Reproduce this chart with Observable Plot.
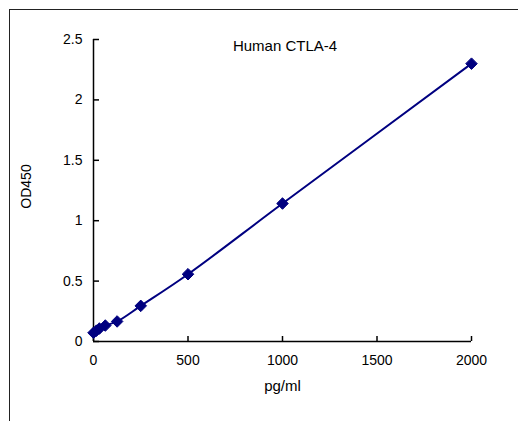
<!DOCTYPE html>
<html>
<head>
<meta charset="utf-8">
<script src="https://cdn.jsdelivr.net/npm/d3@7"></script>
<script src="https://cdn.jsdelivr.net/npm/@observablehq/plot@0.6"></script>
<style>
  html, body { margin: 0; padding: 0; background: #fff; }
  #wrap { position: relative; width: 518px; height: 421px; overflow: hidden; }
  #frame { position: absolute; left: 9px; top: 9px; width: 700px; height: 700px; border: 1.5px solid #222; box-sizing: border-box; }
  #chart { position: absolute; left: 0; top: 0; }
</style>
</head>
<body>
<div id="wrap"><div id="frame"></div><div id="chart"></div></div>
<script>
const title = "Human CTLA-4";
const xLabel = "pg/ml";
const yLabel = "OD450";
const concentration = [0, 15.6, 31.25, 62.5, 125, 250, 500, 1000, 2000];
const od450 = [0.072, 0.09, 0.107, 0.132, 0.166, 0.295, 0.557, 1.142, 2.30];
const xTicks = [0, 500, 1000, 1500, 2000];
const yTicks = [0, 0.5, 1, 1.5, 2, 2.5];

const data = concentration.map((c, i) => ({c, od: od450[i]}));
const navy = "#000080";
const fmt = d => String(d);

const plot = Plot.plot({
  width: 518,
  height: 421,
  marginLeft: 93,
  marginRight: 47,
  marginTop: 39,
  marginBottom: 80,
  style: {fontFamily: "Liberation Sans, Arial, sans-serif", fontSize: "14px", color: "#000", background: "transparent"},
  x: {domain: [0, 2000]},
  y: {domain: [0, 2.5]},
  marks: [
    Plot.axisX(xTicks, {tickSize: 0, tickPadding: 14, tickFormat: fmt, fontSize: 14, label: null}),
    Plot.axisX(xTicks, {tickSize: -5, text: null, strokeWidth: 1.5, label: null}),
    Plot.axisY(yTicks, {tickSize: 0, tickPadding: 11, tickFormat: fmt, fontSize: 14, label: null}),
    Plot.axisY(yTicks, {tickSize: -6, text: null, strokeWidth: 1.5, label: null}),
    Plot.ruleX([0], {strokeWidth: 1.5}),
    Plot.ruleY([0], {strokeWidth: 1.5}),
    Plot.line(data, {x: "c", y: "od", stroke: navy, strokeWidth: 2, curve: "catmull-rom"}),
    Plot.dot(data, {x: "c", y: "od", symbol: "diamond2", r: 5.2, fill: navy, stroke: navy, strokeWidth: 1}),
    Plot.text([title], {frameAnchor: "top", textAnchor: "middle", lineAnchor: "top", dy: 1, dx: 2.5, fontSize: 15}),
    Plot.text([xLabel], {frameAnchor: "bottom", textAnchor: "middle", lineAnchor: "middle", dy: 45, fontSize: 15}),
    Plot.text([yLabel], {frameAnchor: "left", textAnchor: "middle", lineAnchor: "middle", rotate: -90, dx: -67, dy: -4, fontSize: 14})
  ]
});
document.getElementById("chart").appendChild(plot);
</script>
</body>
</html>
